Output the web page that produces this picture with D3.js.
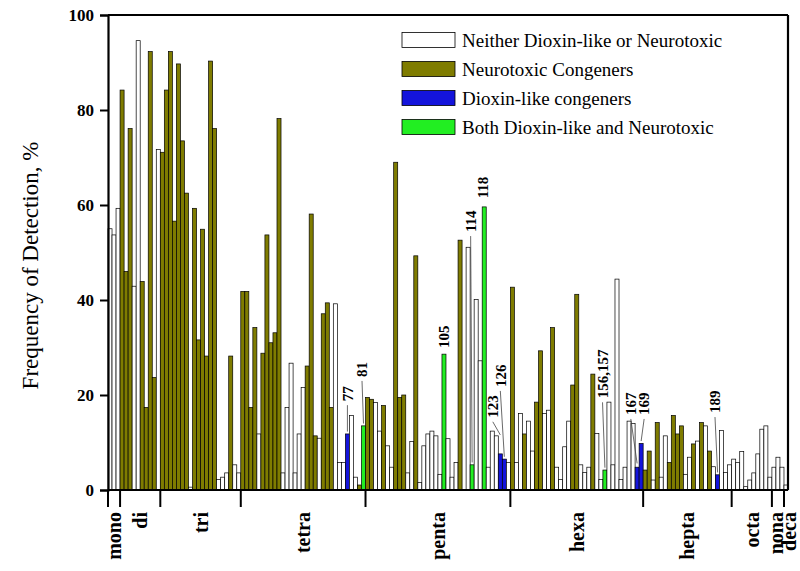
<!DOCTYPE html>
<html>
<head>
<meta charset="utf-8">
<script src="https://cdn.jsdelivr.net/npm/d3@7"></script>
<style>
  html, body { margin: 0; padding: 0; background: #fff; }
  svg { display: block; }
  text { font-family: "Liberation Serif", "Times New Roman", serif; fill: #000; }
</style>
</head>
<body>
<svg id="chart" width="800" height="571"></svg>
<script>
// ---------------- DATA ----------------
const homologs = ["mono", "di", "tri", "tetra", "penta", "hexa", "hepta", "octa", "nona", "deca"];

// Frequency of detection (%) per congener bar, grouped by homolog
const monoVals  = [55, 53.7, 59.3];
const diVals    = [84.2, 46, 76.1, 42.9, 94.6, 43.9, 17.4, 92.3, 23.7, 71.7];
const triVals   = [71.1, 84.2, 92.3, 56.6, 89.7, 73.5, 62.5, 0.6, 59.3, 31.6, 54.9, 28.2, 90.3, 76.1, 2.2, 2.7, 3.6, 28.2, 5.3, 3.6];
const tetraVals = [41.8, 41.8, 17.4, 34.2, 11.8, 28.8, 53.7, 31.0, 33.1, 78.2, 3.6, 17.4, 26.7, 3.6, 11.8, 21.6, 26.1, 58.1, 11.4, 10.9, 37.1, 39.4, 17.4, 39.2, 5.8, 5.8, 11.8, 15.7, 2.7, 1.05, 13.5];
const pentaVals = [19.5, 19.1, 18.4, 12.4, 17.8, 9.3, 4.8, 69.0, 19.5, 20.0, 3.6, 10.2, 49.3, 1.6, 9.3, 11.8, 12.4, 11.4, 3.3, 28.6, 10.8, 2.7, 5.8, 52.6, 0, 51.1, 5.3, 40.1, 27.2, 59.6, 4.8, 12.4, 11.4, 7.6, 6.5, 5.8];
const hexaVals  = [42.7, 5.8, 16.1, 11.8, 14.5, 8.2, 18.5, 29.3, 16.1, 16.8, 34.2, 4.8, 2.2, 9.1, 14.5, 22.1, 41.2, 5.3, 3.7, 4.8, 24.4, 11.9, 2.2, 4.2, 18.5, 5.3, 44.4, 2.2, 4.8, 14.5, 14.0, 4.8, 9.8];
const heptaVals = [4.2, 8.2, 2.1, 14.2, 2.7, 11.4, 5.8, 15.7, 11.8, 13.5, 3.3, 6.9, 9.7, 10.3, 14.2, 13.5, 8.2, 4.9, 3.2, 12.5, 3.7, 5.3];
const octaVals  = [6.5, 5.8, 8.1, 0.7, 2.1, 3.6, 7.6, 12.8, 13.5, 2.7];
const nonaVals  = [4.8, 6.9, 4.8];
const decaVals  = [1.05];

// Congener class per bar: W = neither, N = neurotoxic, D = dioxin-like, B = both
const monoKind  = "WWW";
const diKind    = "NNNWWNNNNW";
const triKind   = "NNNNNNNWNNNNNNWWWNWW";
const tetraKind = "NNNNWNNNNNWWWWWWNNNWNNNWWWDWWNB";
const pentaKind = "NNWWNWWNNNWWNWWWWWWBWWWNWWBWWBWWWDDW";
const hexaKind  = "NWWNWWNNWWNWWWWNNWWWNWWBWWWWWWWDD";
const heptaKind = "NNWNWWNNNNWWNWNWNWDWWW";
const octaKind  = "WWWWWWWWWW";
const nonaKind  = "WWW";
const decaKind  = "W";

const seriesNames = ["Neither Dioxin-like or Neurotoxic", "Neurotoxic Congeners", "Dioxin-like congeners", "Both Dioxin-like and Neurotoxic"];
const seriesKeys  = ["W", "N", "D", "B"];

// Annotated congeners: label, homolog, position in homolog, label level (%), line end level (%)
const annoLabels   = ["77", "81", "105", "114", "118", "123", "126", "156,157", "167", "169", "189"];
const annoHomolog  = ["tetra", "tetra", "penta", "penta", "penta", "penta", "penta", "hexa", "hexa", "hexa", "hepta"];
const annoPos      = [26, 30, 19, 26, 29, 33, 34, 23, 31, 32, 18];
const annoLevel    = [18.7, 23.8, 29.9, 54.3, 61.4, 15.2, 21.7, 19.3, 15.8, 15.8, 16.2];
const annoLineEnd  = [12.3, 14.0, null, 5.8, null, 11.6, 7.0, 4.7, 5.6, 10.3, 3.7];

const yTicks = [0, 20, 40, 60, 80, 100];

// ---------------- BUILD ----------------
const groupVals  = [monoVals, diVals, triVals, tetraVals, pentaVals, hexaVals, heptaVals, octaVals, nonaVals, decaVals];
const groupKinds = [monoKind, diKind, triKind, tetraKind, pentaKind, hexaKind, heptaKind, octaKind, nonaKind, decaKind];

const bars = [];
const groupStart = {};
homologs.forEach((h, gi) => {
  groupStart[h] = bars.length;
  groupVals[gi].forEach((v, j) => {
    bars.push({ id: bars.length, group: h, value: v, kind: groupKinds[gi][j] });
  });
});

const colors = { W: "#ffffff", N: "#7f7c00", D: "#1414dc", B: "#22ee22" };

const margin = { left: 108, right: 12, top: 15, bottom: 81 };
const W = 800, H = 571;
const iw = W - margin.left - margin.right;
const ih = H - margin.top - margin.bottom;

const svg = d3.select("#chart");
const g = svg.append("g").attr("transform", `translate(${margin.left},${margin.top})`);

const x = d3.scaleBand().domain(bars.map(d => d.id)).range([0, iw]).padding(0);
const y = d3.scaleLinear().domain([0, 100]).range([ih, 0]);

// bars
g.append("g").selectAll("rect").data(bars).join("rect")
  .attr("x", d => x(d.id))
  .attr("width", x.bandwidth())
  .attr("y", d => y(d.value))
  .attr("height", d => Math.max(0, y(0) - y(d.value)))
  .attr("fill", d => colors[d.kind])
  .attr("stroke", "#000")
  .attr("stroke-width", 0.7);

// frame
g.append("line").attr("x1", 0).attr("x2", iw).attr("y1", 0).attr("y2", 0).attr("stroke", "#000").attr("stroke-width", 2.2);
g.append("line").attr("x1", iw).attr("x2", iw).attr("y1", 0).attr("y2", ih).attr("stroke", "#000").attr("stroke-width", 2.2);

// y axis
const yAxis = d3.axisLeft(y).tickValues(yTicks).tickSize(8).tickPadding(6).tickFormat(d3.format("d"));
const ya = g.append("g").call(yAxis);
ya.select(".domain").attr("stroke-width", 2.2);
ya.selectAll(".tick line").attr("stroke-width", 2);
ya.selectAll(".tick text").attr("font-size", 17).attr("font-weight", "bold")
  .style("font-family", "'Liberation Serif', 'Times New Roman', serif");

// x axis (baseline + homolog boundary ticks)
g.append("line").attr("x1", 0).attr("x2", iw).attr("y1", ih).attr("y2", ih).attr("stroke", "#000").attr("stroke-width", 2.2);
const boundaries = homologs.map(h => x(groupStart[h]));
g.append("g").selectAll("line").data(boundaries).join("line")
  .attr("x1", d => d).attr("x2", d => d)
  .attr("y1", ih).attr("y2", ih + 17)
  .attr("stroke", "#000").attr("stroke-width", 2);

// homolog labels
const labelShift = { nona: -1.5, deca: 3 };
homologs.forEach((h, gi) => {
  const s = groupStart[h];
  const e = s + groupVals[gi].length;
  const cx = (x(s) + (e < bars.length ? x(e) : iw)) / 2 + (labelShift[h] || 0);
  g.append("text")
    .attr("transform", `translate(${cx},${ih + 22}) rotate(-90)`)
    .attr("text-anchor", "end")
    .attr("dy", "0.35em")
    .attr("font-size", 20)
    .attr("font-weight", "bold")
    .text(h);
});

// y label
svg.append("text")
  .attr("transform", `translate(30,${margin.top + ih / 2 + 13}) rotate(-90)`)
  .attr("text-anchor", "middle")
  .attr("dy", "0.35em")
  .attr("font-size", 23)
  .text("Frequency of Detection, %");

// annotations
annoLabels.forEach((lab, i) => {
  const bi = groupStart[annoHomolog[i]] + annoPos[i];
  const bx = x(bi) + x.bandwidth() / 2;
  const ty = y(annoLevel[i]);
  const offs = { "81": -1.5, "114": -1.5, "118": -1, "123": -7.5, "126": -4, "156,157": -2.4, "167": -6.3, "169": 3, "189": -2.6 };
  const tx = bx + (offs[lab] || 0);
  g.append("text")
    .attr("transform", `translate(${tx},${ty}) rotate(-90)`)
    .attr("text-anchor", "start")
    .attr("dy", "0.35em")
    .attr("font-size", 15)
    .attr("font-weight", "bold")
    .text(lab);
  if (annoLineEnd[i] !== null) {
    g.append("line")
      .attr("x1", tx).attr("y1", ty + 4)
      .attr("x2", bx).attr("y2", y(annoLineEnd[i]))
      .attr("stroke", "#444").attr("stroke-width", 0.8);
  }
});

// legend
const leg = svg.append("g");
seriesKeys.forEach((k, i) => {
  const cy = 40 + i * 29;
  leg.append("rect").attr("x", 402).attr("y", cy - 7.5).attr("width", 53).attr("height", 15)
    .attr("fill", colors[k]).attr("stroke", "#000").attr("stroke-width", 0.8);
  leg.append("text").attr("x", 462).attr("y", cy).attr("dy", "0.35em")
    .attr("font-size", 19).text(seriesNames[i]);
});
</script>
</body>
</html>
